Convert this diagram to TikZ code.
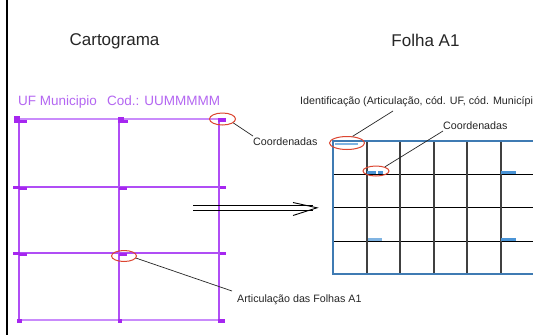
\documentclass[tikz,border=0pt]{standalone}
\usepackage{fontspec}
\setmainfont{Liberation Sans}
\usetikzlibrary{shapes.geometric}
\definecolor{purp}{HTML}{B04EF5}
\definecolor{purplight}{HTML}{C98BFB}
\definecolor{purptext}{HTML}{B466F2}
\definecolor{purpmark}{HTML}{A626F0}
\definecolor{redel}{HTML}{DC4530}
\definecolor{bluebd}{HTML}{3F7BB3}
\definecolor{bluemk}{HTML}{4A94D6}
\definecolor{txt}{HTML}{262626}
\begin{document}
\begin{tikzpicture}[x=1pt,y=-1pt,
 lbl/.style={font=\fontsize{10.7}{12}\selectfont, text=txt, inner sep=0pt, anchor=base west},
 ttl/.style={font=\fontsize{17}{20}\selectfont, text=txt, inner sep=0pt, anchor=base},
 ptxt/.style={font=\fontsize{13.5}{16}\selectfont, text=purptext, inner sep=0pt, anchor=base west},
 ring/.style={draw=redel, line width=1pt, ellipse, inner sep=0pt},
 leader/.style={draw=black!85, line width=0.7pt},
 cgrid/.style={draw=purp, line width=1.2pt},
 cedge/.style={draw=purplight, line width=2pt},
 cmark/.style={fill=purpmark},
 fgrid/.style={draw=black, line width=1pt},
 fvert/.style={draw=black!75, line width=1.2pt},
 fedge/.style={draw=bluebd, line width=1.5pt},
 fmark/.style={fill=bluemk},
 fmarklight/.style={fill=bluemk!70},
 dblarrow/.style={draw=black, line width=0.9pt},
]
\clip (0,0) rectangle (533,335);
\fill[white] (0,0) rectangle (533,335);
\draw[line width=1.5pt] (7,0) -- (7,335);

% titles
\node[ttl] (tcart) at (114.5,45) {Cartograma};
\node[ttl] (tfolha) at (425.5,46) {Folha A1};
\node[ptxt] (uf) at (18,105) {UF Municipio};
\node[ptxt] (cod) at (107,105) {Cod.: UUMMMMM};

% cartograma grid
\foreach \yy in {187,253} \draw[cgrid] (19,\yy) -- (223,\yy);
\foreach \xx in {19,119,219} \draw[cgrid] (\xx,119) -- (\xx,320);
\draw[cedge] (17,119) -- (225,119);
\draw[cedge] (17,320) -- (225,320);
% markers
\fill[cmark] (14,116) rectangle (20,121);
\fill[cmark] (14,120) rectangle (27,122.5);
\fill[cmark] (118,117) rectangle (124,121);
\fill[cmark] (118,120) rectangle (128,122.5);
\fill[cmark] (218,117.5) rectangle (226,121.5);
\foreach \yy in {187,253} {
  \fill[cmark] (13,\yy-1) rectangle (20,\yy+1.5);
  \fill[cmark] (19,\yy) rectangle (27,\yy+2.5);
  \fill[cmark] (119,\yy) rectangle (127,\yy+2.5);
  \fill[cmark] (220,\yy-1.5) rectangle (226,\yy+1.5);
}
\fill[cmark] (17,318.5) rectangle (22,323);
\fill[cmark] (118,319) rectangle (122,322.5);
\fill[cmark] (218,318.5) rectangle (225,323);

% double arrow
\coordinate (aS1) at (193,205);
\coordinate (aE1) at (313,205);
\coordinate (aS2) at (193,210.5);
\coordinate (aE2) at (313,210.5);
\coordinate (aB1) at (293,202.5);
\coordinate (aT) at (317,207.8);
\coordinate (aB2) at (293,215.5);
\draw[dblarrow] (aS1) -- (aE1);
\draw[dblarrow] (aS2) -- (aE2);
\draw[dblarrow, line join=miter] (aB1) -- (aT) -- (aB2);

% folha grid
\foreach \yy in {174,207,241} \draw[fgrid] (333,\yy) -- (540,\yy);
\foreach \xx in {367,400,434,467,501} \draw[fvert] (\xx,141) -- (\xx,274);
\draw[fedge] (540,141) -- (333,141) -- (333,274) -- (540,274);
\fill[fmarklight] (335,142.5) rectangle (358,145);
\fill[fmark] (367,171) rectangle (376,173.5);
\fill[fmark] (377.5,171) rectangle (383,173.5);
\fill[fmark] (501,171) rectangle (516,173.5);
\fill[fmarklight] (368,238) rectangle (382,240.5);
\fill[fmark] (501,238) rectangle (516,240.5);

% rings
\node[ring, minimum width=26pt, minimum height=12pt] (e1) at (222.5,119) {};
\node[ring, minimum width=25pt, minimum height=11pt] (e2) at (124,256) {};
\node[ring, minimum width=35pt, minimum height=13pt] (e3) at (347,143) {};
\node[ring, minimum width=26pt, minimum height=10pt] (e4) at (376,171) {};

% labels
\node[lbl] (lc1) at (253,145) {Coordenadas};
\node[lbl] (lid) at (300,104) {Identificação (Articulação, cód. UF, cód. Município)};
\node[lbl] (lc2) at (443,129) {Coordenadas};
\node[lbl] (lart) at (237,302) {Articulação das Folhas A1};

% leaders
\coordinate (k1) at (253,136);
\coordinate (k2) at (232,291);
\coordinate (k3) at (393,111);
\coordinate (k4) at (443,131);
\draw[leader] (e1.-20) -- (k1);
\draw[leader] (e2.-10) -- (k2);
\draw[leader] (e3.50) -- (k3);
\draw[leader] (e4.25) -- (k4);
\end{tikzpicture}
\end{document}
